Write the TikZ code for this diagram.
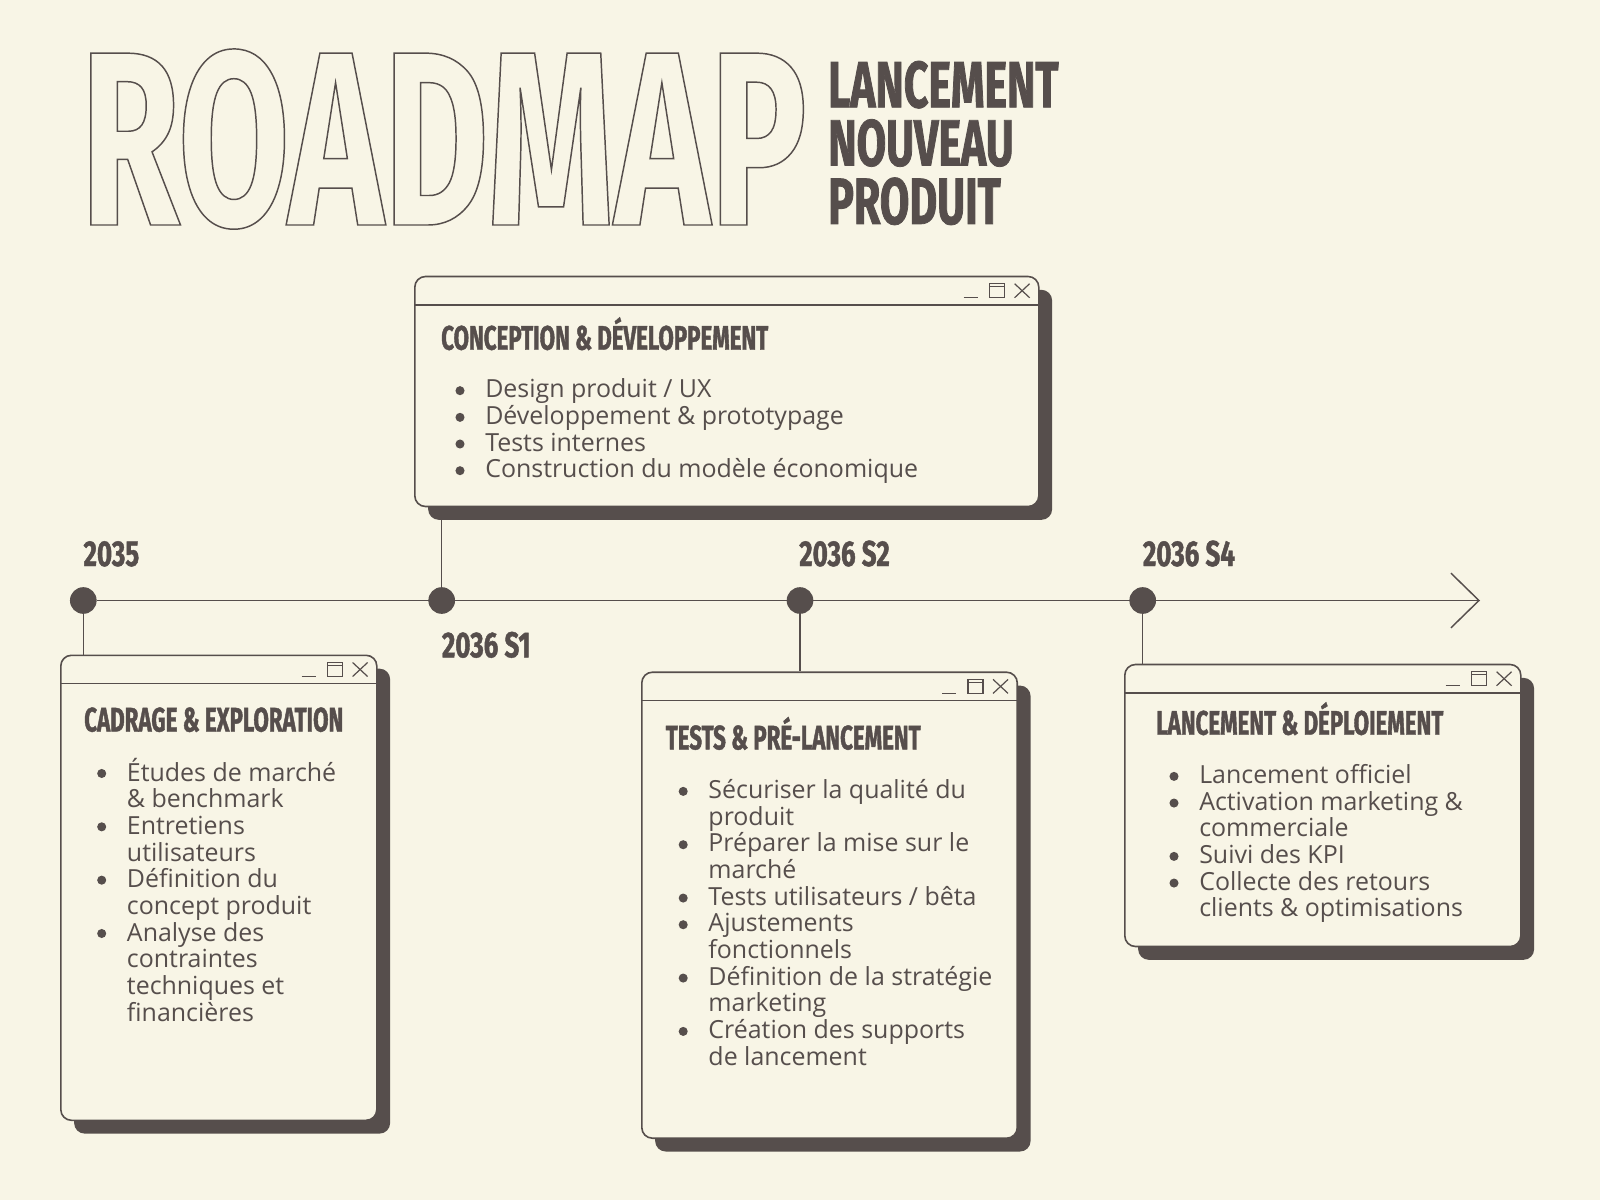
\documentclass[tikz,border=0pt]{standalone}
\usepackage{fontspec}
\setmainfont{Open Sans}
\newfontfamily\headfont[FakeStretch=0.655, FakeBold=1.2]{Fira Sans}
\newfontfamily\datefont[FakeStretch=0.72, FakeBold=1.2]{Fira Sans}
\newfontfamily\bigfont[FakeStretch=0.652]{Fira Sans}
\usetikzlibrary{calc}
\usetikzlibrary{shadows}
\usetikzlibrary{arrows.meta}

\definecolor{cream}{HTML}{F8F5E6}
\definecolor{ink}{HTML}{564E4C}

\newcommand\strt{\rule{0pt}{17pt}}
\newcommand\winicons[1]{%
  \draw[winline] ($(#1.north west)+(0,29)$) -- ($(#1.north east)+(0,29)$);
  \draw[icon] ($(#1.north east)+(-76,22)$) -- ++(14,0);
  \draw[icon] ($(#1.north east)+(-50,8)$) rectangle ++(15,14);
  \draw[icon] ($(#1.north east)+(-50,11)$) -- ++(15,0);
  \draw[icon] ($(#1.north east)+(-25,8)$) -- ++(15,14);
  \draw[icon] ($(#1.north east)+(-10,8)$) -- ++(-15,14);
}

\tikzset{
  win/.style={draw=ink, line width=1.2pt, fill=cream, rounded corners=8pt,
    inner sep=0pt, anchor=north west,
    general shadow={fill=ink, shadow xshift=10pt, shadow yshift=-10pt}},
  winline/.style={ink, line width=1.2pt},
  icon/.style={ink, line width=0.9pt},
  dot/.style={circle, fill=ink, minimum size=20pt, inner sep=0pt},
  link/.style={ink, line width=1.1pt},
  sub/.style={text=ink, inner sep=0pt, anchor=base west,
    font=\headfont\bfseries\fontsize{49}{49}\selectfont},
  date/.style={text=ink, inner sep=0pt, anchor=base west,
    font=\datefont\bfseries\fontsize{27}{27}\selectfont},
  title/.style={text=ink, inner sep=0pt, anchor=base west,
    font=\headfont\bfseries\fontsize{25.5}{25.5}\selectfont},
  body/.style={text=ink, inner sep=0pt, anchor=north west, align=left,
    font=\fontsize{18.7}{20}\selectfont},
}

\begin{document}
\begin{tikzpicture}[x=0.75pt,y=-0.75pt]
\fill[cream] (0,0) rectangle (1600,1200);
\useasboundingbox (0,0) rectangle (1600,1200);

% heading
\node[anchor=base west, inner sep=0pt, text=ink,
  font=\bigfont\bfseries\fontsize{186}{186}\selectfont] (roadmap) at (80,225)
  {\special{pdf:code q 1 Tr 1.1 w}ROADMAP\special{pdf:code Q}};
\node[sub] (sub1) at (828,107.3) {LANCEMENT};
\node[sub] (sub2) at ($(sub1.base west)+(0,58.3)$) {NOUVEAU};
\node[sub] (sub3) at ($(sub2.base west)+(0,58.3)$) {PRODUIT};

% timeline
\coordinate (tip) at (1480,600.5);
\node[dot] (d1) at (83.3,600.5) {};
\node[dot] (d2) at (441.7,600.5) {};
\node[dot] (d3) at (800,600.5) {};
\node[dot] (d4) at (1142.7,600.5) {};
\draw[link, -{Straight Barb[length=21pt, width=41pt]}] (d1) -- (tip);

\node[date] (y1) at ($(d1)+(0,-34.5)$) {2035};
\node[date] (y2) at ($(d2)+(0,56.8)$) {2036 S1};
\node[date] (y3) at ($(d3)+(-1,-34.5)$) {2036 S2};
\node[date] (y4) at ($(d4)+(0,-34.5)$) {2036 S4};

% windows
\node[win, minimum width=237pt, minimum height=348.75pt] (b1) at (60,654.5) {};
\node[win, minimum width=468pt, minimum height=172.5pt] (b2) at (414,275.7) {};
\node[win, minimum width=281.6pt, minimum height=349.5pt] (b3) at (641,671.4) {};
\node[win, minimum width=297pt, minimum height=211.5pt] (b4) at (1124,663.7) {};

\draw[link] (d1) -- (d1 |- b1.north);
\draw[link] (d2) -- (d2 |- b2.south);
\draw[link] (d3) -- (d3 |- b3.north);
\draw[link] (d4) -- (d4 |- b4.north);

\winicons{b1}
\winicons{b2}
\winicons{b3}
\winicons{b4}

\node[title] (h1) at ($(b1.north west)+(24,77)$) {CADRAGE \& EXPLORATION};
\node[title] (h2) at ($(b2.north west)+(27,74)$) {CONCEPTION \& DÉVELOPPEMENT};
\node[title] (h3) at ($(b3.north west)+(24.5,78)$) {TESTS \& PRÉ-LANCEMENT};
\node[title] (h4) at ($(b4.north west)+(32,71)$) {LANCEMENT \& DÉPLOIEMENT};

\node[body] (l1) at ($(b1.north west)+(66.7,103.3)$)
  {\strt Études de marché\\ \& benchmark\\ Entretiens\\ utilisateurs\\
   Définition du\\ concept produit\\ Analyse des\\ contraintes\\
   techniques et\\ financières};
\node[body] (l2) at ($(b2.north west)+(71,99.3)$)
  {\strt Design produit / UX\\ Développement \& prototypage\\
   Tests internes\\ Construction du modèle économique};
\node[body] (l3) at ($(b3.north west)+(67.2,104.3)$)
  {\strt Sécuriser la qualité du\\ produit\\ Préparer la mise sur le\\ marché\\
   Tests utilisateurs / bêta\\ Ajustements\\ fonctionnels\\
   Définition de la stratégie\\ marketing\\ Création des supports\\ de lancement};
\node[body] (l4) at ($(b4.north west)+(75,97)$)
  {\strt Lancement officiel\\ Activation marketing \&\\ commerciale\\
   Suivi des KPI\\ Collecte des retours\\ clients \& optimisations};

% bullets
\foreach \k in {0,2,4,6}
  \fill[ink] ($(l1.north west)+(-25,{15.67+\k*26.67})$) circle (3.4pt);
\foreach \k in {0,1,2,3}
  \fill[ink] ($(l2.north west)+(-25,{15.67+\k*26.67})$) circle (3.4pt);
\foreach \k in {0,2,4,5,7,9}
  \fill[ink] ($(l3.north west)+(-25,{15.67+\k*26.67})$) circle (3.4pt);
\foreach \k in {0,1,3,4}
  \fill[ink] ($(l4.north west)+(-25,{15.67+\k*26.67})$) circle (3.4pt);

\end{tikzpicture}
\end{document}
